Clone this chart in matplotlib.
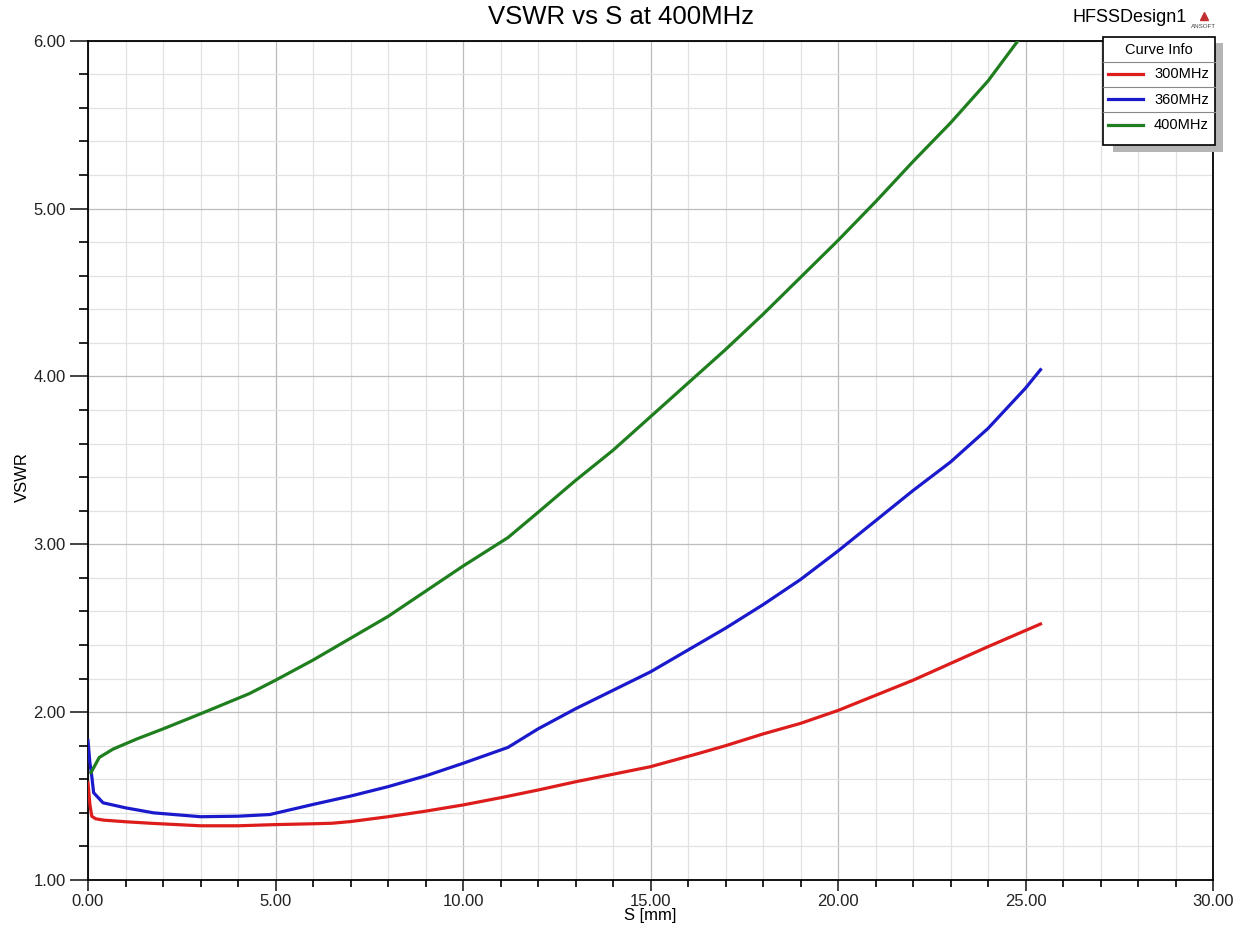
import numpy as np
import matplotlib
matplotlib.use("Agg")
import matplotlib.pyplot as plt
from matplotlib.patches import Rectangle
from matplotlib.lines import Line2D
from matplotlib.ticker import MultipleLocator, FormatStrFormatter

plt.rcParams['font.family'] = ['Liberation Sans', 'DejaVu Sans']

# data
s_300 = [0.0, 0.05, 0.1, 0.2, 0.4, 1.0, 1.75, 3.0, 4.0, 5.0, 6.0, 6.5, 7.0, 8.0, 9.0, 10.0,
         11.0, 12.0, 13.0, 14.0, 15.0, 16.3, 17.0, 18.0, 19.0, 20.0, 21.0, 22.0, 23.0, 24.0, 25.4]
vswr_300 = [1.58, 1.45, 1.38, 1.365, 1.357, 1.347, 1.337, 1.323, 1.323, 1.33, 1.335, 1.338,
            1.348, 1.377, 1.41, 1.447, 1.49, 1.536, 1.585, 1.63, 1.675, 1.755, 1.80, 1.87,
            1.933, 2.01, 2.10, 2.19, 2.29, 2.39, 2.525]

s_360 = [0.0, 0.05, 0.1, 0.15, 0.4, 1.0, 1.75, 3.0, 4.0, 4.85, 6.0, 7.0, 8.0, 9.0, 10.0,
         11.2, 12.0, 13.0, 14.0, 15.0, 16.0, 17.0, 18.0, 19.0, 20.0, 21.0, 22.0, 23.0, 24.0,
         25.0, 25.4]
vswr_360 = [1.83, 1.70, 1.62, 1.52, 1.46, 1.43, 1.40, 1.377, 1.38, 1.39, 1.45, 1.50, 1.556,
            1.62, 1.695, 1.79, 1.90, 2.02, 2.13, 2.24, 2.37, 2.50, 2.64, 2.79, 2.96, 3.14,
            3.32, 3.49, 3.69, 3.93, 4.04]

s_400 = [0.08, 0.3, 0.67, 1.3, 2.0, 3.0, 4.3, 5.0, 6.0, 7.0, 8.0, 9.0, 10.0, 11.2, 12.0,
         13.0, 14.0, 15.0, 16.0, 17.0, 18.0, 19.0, 20.0, 21.0, 22.0, 23.0, 24.0, 24.8]
vswr_400 = [1.64, 1.73, 1.78, 1.84, 1.90, 1.99, 2.11, 2.19, 2.31, 2.44, 2.57, 2.72, 2.87,
            3.04, 3.19, 3.38, 3.56, 3.76, 3.96, 4.16, 4.37, 4.59, 4.81, 5.04, 5.28, 5.51,
            5.76, 6.0]

labels = ["300MHz", "360MHz", "400MHz"]
colors = ["#dd1c1c", "#1a1acc", "#1f7f1f"]

W, H = 1242, 930
fig = plt.figure(figsize=(W / 100, H / 100), dpi=100)
ax = fig.add_axes([88 / W, 1 - 880 / H, (1213 - 88) / W, (880 - 40.7) / H])

series = [(s_300, vswr_300), (s_360, vswr_360), (s_400, vswr_400)]
for (xs, ys), lab, c in zip(series, labels, colors):
    ax.plot(xs, ys, color=c, lw=2.3, label=lab, zorder=3, solid_joinstyle='round')

ax.set_xlim(0, 30)
ax.set_ylim(1, 6)
ax.xaxis.set_major_locator(MultipleLocator(5))
ax.xaxis.set_minor_locator(MultipleLocator(1))
ax.yaxis.set_major_locator(MultipleLocator(1))
ax.yaxis.set_minor_locator(MultipleLocator(0.2))
ax.xaxis.set_major_formatter(FormatStrFormatter('%.2f'))
ax.yaxis.set_major_formatter(FormatStrFormatter('%.2f'))

ax.grid(which='major', color='#bcbcbc', lw=0.9)
ax.grid(which='minor', color='#e2e2e2', lw=0.9)
ax.set_axisbelow(True)

for sp in ax.spines.values():
    sp.set_color('black')
    sp.set_linewidth(1.3)

ax.tick_params(axis='x', which='major', direction='out', length=8, width=1.2, pad=2, labelsize=12)
ax.tick_params(axis='x', which='minor', direction='out', length=5, width=1.2)
ax.tick_params(axis='y', which='major', direction='out', length=13, width=1.2, pad=3, labelsize=12)
ax.tick_params(axis='y', which='minor', direction='out', length=6.5, width=1.2)
ax.tick_params(colors='#222222')

ax.set_xlabel("S [mm]", fontsize=12, labelpad=-1)
ax.set_ylabel("VSWR", fontsize=12)
ax.yaxis.set_label_coords(-0.052, 0.48)

fig.text(621 / W, 1 - 17 / H, "VSWR vs S at 400MHz", ha='center', va='center', fontsize=18.5)
fig.text(1130 / W, 1 - 18 / H, "HFSSDesign1", ha='center', va='center', fontsize=13)
fig.text(1204 / W, 1 - 27 / H, "ANSOFT", ha='center', va='center', fontsize=4.5, color='#444444')
fig.add_artist(Line2D([1204 / W], [1 - 16 / H], marker='^', markersize=6,
                      color='#c03030', transform=fig.transFigure))


def px(x, y):
    return x / W, 1 - y / H


# legend box "Curve Info", drawn like the HFSS one
lx0, lx1, ly0, ly1 = 1103, 1215, 37, 145
sx, sy = px(1113, 152)
fig.add_artist(Rectangle((sx, sy), (1223 - 1113) / W, (152 - 43) / H,
                         transform=fig.transFigure, facecolor='#b5b5b5', edgecolor='none', zorder=5))
bx, by = px(lx0, ly1)
fig.add_artist(Rectangle((bx, by), (lx1 - lx0) / W, (ly1 - ly0) / H,
                         transform=fig.transFigure, facecolor='white', edgecolor='black', lw=1.2, zorder=6))
rows = [37, 62, 87, 112, 145]
for r in rows[1:-1]:
    fig.add_artist(Line2D([lx0 / W, lx1 / W], [1 - r / H, 1 - r / H], color='#888888', lw=0.8,
                          transform=fig.transFigure, zorder=7))
fig.text((lx0 + lx1) / 2 / W, 1 - 50 / H, "Curve Info", ha='center', va='center', fontsize=10.5, zorder=8)
for i, (lab, c) in enumerate(zip(labels, colors)):
    yc = (rows[i + 1] + rows[i + 2]) / 2 if i < 2 else 125
    fig.add_artist(Line2D([1108 / W, 1143 / W], [1 - yc / H, 1 - yc / H], color=c, lw=2.3,
                          transform=fig.transFigure, zorder=8))
    fig.text(1209 / W, 1 - yc / H, lab, ha='right', va='center', fontsize=10.5, zorder=8)

fig.savefig("out.png", dpi=100)
